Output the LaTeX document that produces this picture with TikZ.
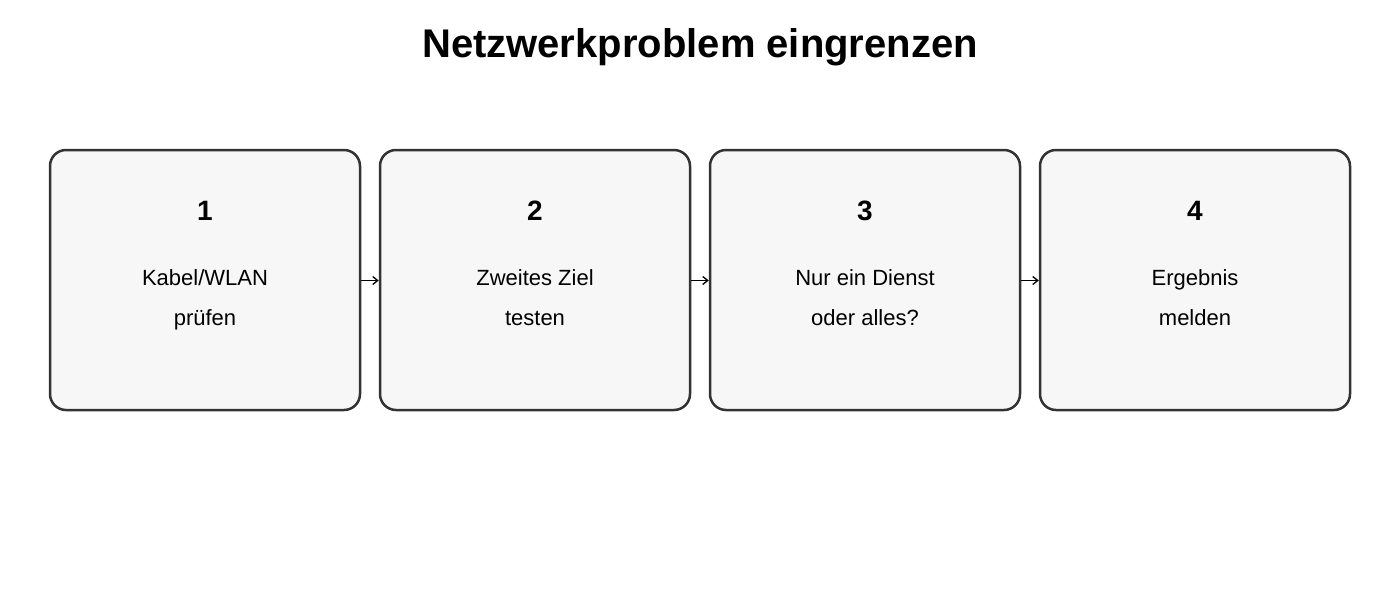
\documentclass[tikz,border=0pt]{standalone}
\usepackage{fontspec}
\setmainfont{Liberation Sans}
\usetikzlibrary{arrows.meta}
\definecolor{boxfill}{HTML}{F7F7F7}
\definecolor{boxline}{HTML}{333333}
\begin{document}
\begin{tikzpicture}[x=1pt,y=-1pt,
  stepbox/.style={draw=boxline,fill=boxfill,line width=2.5pt,rounded corners=16pt,
    minimum width=310pt,minimum height=260pt,inner sep=0pt},
  numtext/.style={anchor=base,inner sep=0pt,font=\bfseries\fontsize{28}{32}\selectfont},
  labtext/.style={anchor=base,inner sep=0pt,font=\fontsize{22}{40}\selectfont},
  flow/.style={draw=black,line width=1.3pt,-{Straight Barb[length=5pt,width=8pt]}}]
\useasboundingbox (0,0) rectangle (1400,600);
\node[anchor=base,inner sep=0pt,font=\bfseries\fontsize{40}{48}\selectfont] (title) at (700,57) {Netzwerkproblem eingrenzen};
\foreach \i/\x/\la/\lb in {1/205/Kabel\slash WLAN/prüfen,2/535/Zweites Ziel/testen,3/865/Nur ein Dienst/oder alles?,4/1195/Ergebnis/melden}{
  \node[stepbox] (b\i) at (\x,280) {};
  \node[numtext] (n\i) at (\x,220) {\i};
  \node[labtext] (la\i) at (\x,285) {\la};
  \node[labtext] (lb\i) at (\x,325) {\lb};
}
\draw[flow] ([yshift=-0.5pt]b1.east) -- ([yshift=-0.5pt]b2.west);
\draw[flow] ([yshift=-0.5pt]b2.east) -- ([yshift=-0.5pt]b3.west);
\draw[flow] ([yshift=-0.5pt]b3.east) -- ([yshift=-0.5pt]b4.west);
\end{tikzpicture}
\end{document}
